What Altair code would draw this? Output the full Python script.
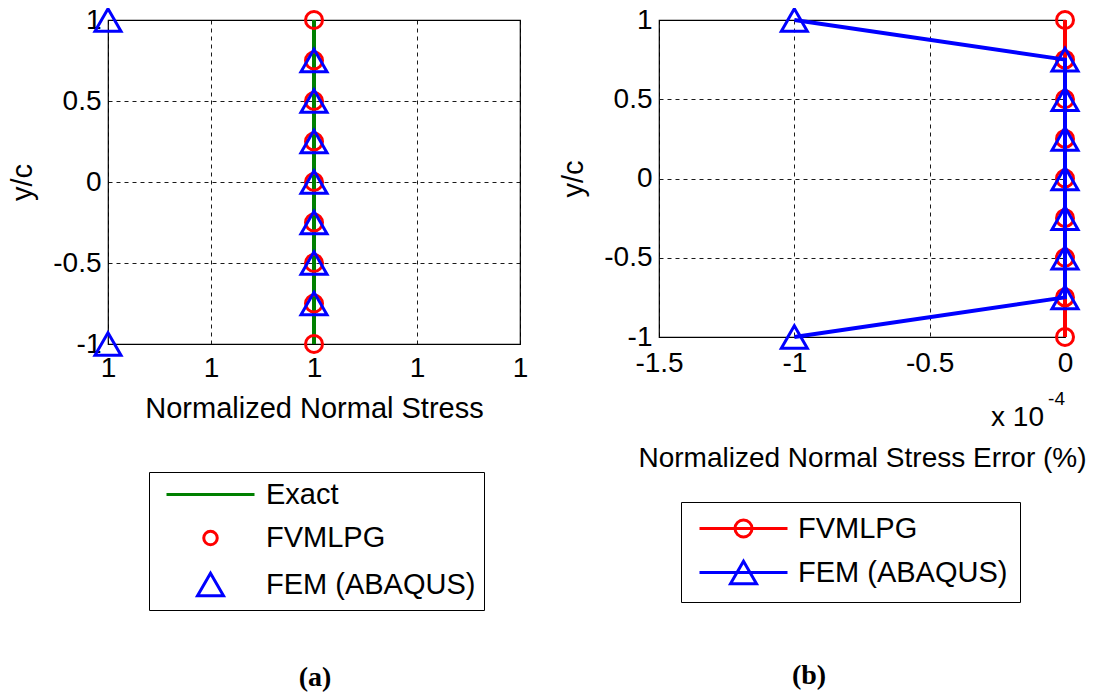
import altair as alt
import pandas as pd

FONT = "Liberation Sans"

# ---------------- data ----------------
y_c = [-1.0, -0.75, -0.5, -0.25, 0.0, 0.25, 0.5, 0.75, 1.0]
exact_stress = [1.0, 1.0, 1.0, 1.0, 1.0, 1.0, 1.0, 1.0, 1.0]
fvmlpg_stress = [1.0, 1.0, 1.0, 1.0, 1.0, 1.0, 1.0, 1.0, 1.0]
fem_stress = [0.999999, 1.0, 1.0, 1.0, 1.0, 1.0, 1.0, 1.0, 0.999999]
# errors in units of 1e-4 %
fvmlpg_err = [0.0, 0.0, 0.0, 0.0, 0.0, 0.0, 0.0, 0.0, 0.0]
fem_err = [-1.0, 0.0, 0.0, 0.0, 0.0, 0.0, 0.0, 0.0, -1.0]

x_domain_a = [0.999999, 1.000001]
x_ticks_a = [0.999999, 0.9999995, 1.0, 1.0000005, 1.000001]
x_domain_b = [-1.5, 0.0]
x_ticks_b = [-1.5, -1.0, -0.5, 0.0]
y_ticks = [-1.0, -0.5, 0.0, 0.5, 1.0]

series_a = ["Exact", "FVMLPG", "FEM (ABAQUS)"]
colors_a = ["#008000", "#ff0000", "#0000ff"]
series_b = ["FVMLPG", "FEM (ABAQUS)"]
colors_b = ["#ff0000", "#0000ff"]

# legend symbol paths (unit = sqrt(size)/2)
paths_a = [
    "M-8.8,0H8.8",
    "M1.35,0A1.35,1.35,0,1,1,-1.35,0A1.35,1.35,0,1,1,1.35,0Z",
    "M0,-2.25L-2.6,2.25L2.6,2.25Z",
]
paths_b = [
    "M-8.8,0H8.8M1.7,0A1.7,1.7,0,1,1,-1.7,0A1.7,1.7,0,1,1,1.7,0",
    "M-8.8,0H8.8M0,-2.25L-2.6,2.25L2.6,2.25Z",
]

sci_base = ["x 10"]
sci_exp = ["-4"]

# ---------------- helpers ----------------
def axis_style(title_size=29):
    return dict(
        labelFont=FONT, labelFontSize=28, labelColor="black",
        titleFont=FONT, titleFontSize=title_size, titleFontWeight="normal", titleColor="black",
        grid=True, gridColor="black", gridDash=[4, 4], gridWidth=0.9,
        ticks=False, domain=False, labelFlush=False, labelOverlap=False,
    )


y_scale = alt.Scale(domain=[-1, 1], nice=False, zero=False)


def y_enc():
    return alt.Y("y:Q", scale=y_scale, title="y/c",
                 axis=alt.Axis(values=y_ticks, labelExpr="toString(datum.value)",
                               labelPadding=7, titlePadding=15, **axis_style()))


def legend(x, y, pad, row_pad, sym_off, lab_off):
    return alt.Legend(title=None, orient="none", legendX=x, legendY=y, direction="vertical",
                      strokeColor="black", fillColor="white", padding=pad, cornerRadius=0,
                      labelFont=FONT, labelFontSize=29, labelColor="black", labelLimit=500,
                      rowPadding=row_pad, symbolOffset=sym_off, labelOffset=lab_off,
                      symbolStrokeWidth=3, symbolSize=100)


caption_style = dict(orient="bottom", font="Liberation Serif", fontSize=28, fontWeight="bold",
                     color="black", anchor="middle", frame="group")

# ---------------- panel (a) ----------------
x_a = alt.X("x:Q", scale=alt.Scale(domain=x_domain_a, nice=False, zero=False),
            title="Normalized Normal Stress",
            axis=alt.Axis(values=x_ticks_a, labelExpr="format(datum.value, '.0f')",
                          labelPadding=10, titlePadding=12, **axis_style()))

df_exact = pd.DataFrame({"x": exact_stress, "y": y_c})
df_fv_a = pd.DataFrame({"x": fvmlpg_stress, "y": y_c})
df_fem_a = pd.DataFrame({"x": fem_stress, "y": y_c})

exact_line = alt.Chart(df_exact).mark_line(color=colors_a[0], strokeWidth=4).encode(
    x=x_a, y=y_enc(), order="y:Q")
fv_pts_a = alt.Chart(df_fv_a).mark_point(shape="circle", filled=False, color=colors_a[1],
                                         strokeWidth=3, size=289, opacity=1).encode(x=x_a, y=y_enc())
fem_pts_a = alt.Chart(df_fem_a).mark_point(shape="triangle-up", filled=False, color=colors_a[2],
                                           strokeWidth=3, size=676, opacity=1).encode(x=x_a, y=y_enc())

leg_a = legend(41, 452, 8, 13.5, 39, 41)
legend_layer_a = alt.Chart(pd.DataFrame({"series": series_a})).mark_point(
    filled=False, strokeWidth=3, size=100, opacity=1).encode(
    color=alt.Color("series:N", scale=alt.Scale(domain=series_a, range=colors_a), legend=leg_a),
    shape=alt.Shape("series:N", scale=alt.Scale(domain=series_a, range=paths_a), legend=leg_a),
).transform_filter("false")

panel_a = alt.layer(exact_line, fv_pts_a, fem_pts_a, legend_layer_a).properties(
    width=412, height=324,
    title=alt.TitleParams("(a)", offset=53, dx=1, **caption_style),
)

# ---------------- panel (b) ----------------
x_b = alt.X("x:Q", scale=alt.Scale(domain=x_domain_b, nice=False, zero=False),
            title="Normalized Normal Stress Error (%)",
            axis=alt.Axis(values=x_ticks_b, labelExpr="toString(datum.value)",
                          labelPadding=12, titlePadding=67, **axis_style(28)))

df_fv_b = pd.DataFrame({"x": fvmlpg_err, "y": y_c})
df_fem_b = pd.DataFrame({"x": fem_err, "y": y_c})

fv_line_b = alt.Chart(df_fv_b).mark_line(color=colors_b[0], strokeWidth=4).encode(
    x=x_b, y=y_enc(), order="y:Q")
fv_pts_b = alt.Chart(df_fv_b).mark_point(shape="circle", filled=False, color=colors_b[0],
                                         strokeWidth=3, size=289, opacity=1).encode(x=x_b, y=y_enc())
fem_line_b = alt.Chart(df_fem_b).mark_line(color=colors_b[1], strokeWidth=4).encode(
    x=x_b, y=y_enc(), order="y:Q")
fem_pts_b = alt.Chart(df_fem_b).mark_point(shape="triangle-up", filled=False, color=colors_b[1],
                                           strokeWidth=3, size=676, opacity=1).encode(x=x_b, y=y_enc())

sci_df = pd.DataFrame({"x": [x_domain_b[1]], "base": sci_base, "exp": sci_exp})
sci_base_txt = alt.Chart(sci_df).mark_text(align="right", baseline="alphabetic", dx=-21,
                                           font=FONT, fontSize=28, color="black").encode(
    x=x_b, y=alt.value(406), text="base:N")
sci_exp_txt = alt.Chart(sci_df).mark_text(align="right", baseline="alphabetic", dx=0,
                                          font=FONT, fontSize=19, color="black").encode(
    x=x_b, y=alt.value(385), text="exp:N")

leg_b = legend(22, 482, 12, 11, 36, 40)
legend_layer_b = alt.Chart(pd.DataFrame({"series": series_b})).mark_point(
    filled=False, strokeWidth=3, size=100, opacity=1).encode(
    color=alt.Color("series:N", scale=alt.Scale(domain=series_b, range=colors_b), legend=leg_b),
    shape=alt.Shape("series:N", scale=alt.Scale(domain=series_b, range=paths_b), legend=leg_b),
).transform_filter("false")

panel_b = alt.layer(fv_line_b, fv_pts_b, fem_line_b, fem_pts_b, sci_base_txt, sci_exp_txt,
                    legend_layer_b).properties(
    width=406, height=317,
    title=alt.TitleParams("(b)", offset=59, dx=-53, **caption_style),
)

chart = alt.hconcat(panel_a, panel_b, spacing=30).resolve_scale(
    x="independent", y="independent", color="independent", shape="independent"
).resolve_legend(color="independent", shape="independent").configure_view(
    stroke="black", strokeWidth=1.2
).properties(
    padding={"left": 0, "top": -6, "right": 0, "bottom": 0}, background="white"
)

chart.save("out.html", embed_options={"renderer": "svg", "actions": False})
